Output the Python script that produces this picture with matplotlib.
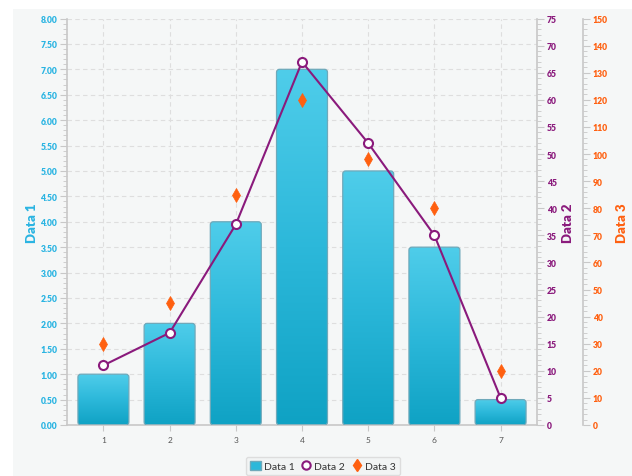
import matplotlib
matplotlib.use("Agg")
import matplotlib.pyplot as plt
import numpy as np
from matplotlib.patches import FancyBboxPatch, Rectangle
from matplotlib.ticker import MultipleLocator, FormatStrFormatter
from matplotlib.lines import Line2D
from matplotlib.colors import LinearSegmentedColormap

categories = [1, 2, 3, 4, 5, 6, 7]
data1 = [1.0, 2.0, 4.0, 7.0, 5.0, 3.5, 0.5]
data2 = [11, 17, 37, 67, 52, 35, 5]
data3 = [30, 45, 85, 120, 98, 80, 20]

BLUE = "#2ab4e2"
PURPLE = "#8a1a7c"
ORANGE = "#ff6010"
GRID = "#dedede"
AXC = "#c8c8c8"

W, H = 632, 477
fig = plt.figure(figsize=(W / 100, H / 100), dpi=100)
fig.patch.set_facecolor("white")
fig.patches.append(Rectangle((13 / W, 0), 1 - 13 / W, (H - 10) / H,
                             transform=fig.transFigure, facecolor="#f5f7f7",
                             edgecolor="none", zorder=-10))

L, R, T, B = 67, 537, 19.5, 426
ax = fig.add_axes([L / W, (H - B) / H, (R - L) / W, (B - T) / H])
ax.set_facecolor("none")
ax.set_xlim(0.45, 7.55)
ax.set_ylim(0, 8)

ax.set_axisbelow(True)
ax.yaxis.set_major_locator(MultipleLocator(0.5))
ax.yaxis.set_minor_locator(MultipleLocator(0.1))
ax.yaxis.set_major_formatter(FormatStrFormatter("%.2f"))
ax.set_xticks(categories)
ax.grid(True, color=GRID, linestyle=(0, (4, 3)), linewidth=0.8)

bars = ax.bar(categories, data1, width=0.77, color="none", edgecolor="none")
grad = np.linspace(0, 1, 256).reshape(-1, 1)
cmap = LinearSegmentedColormap.from_list("g", ["#0fa2c4", "#2cb8da", "#4fcdea"])
for b in bars:
    x0, y0 = b.get_x(), b.get_y()
    w, h = b.get_width(), b.get_height()
    fb = FancyBboxPatch((x0, y0), w, h,
                        boxstyle="round,pad=0,rounding_size=0.045",
                        mutation_aspect=1.3, facecolor="none",
                        edgecolor="#6fa9ba", linewidth=0.9, zorder=3)
    ax.add_patch(fb)
    im = ax.imshow(grad, extent=(x0, x0 + w, y0, y0 + h), origin="lower",
                   cmap=cmap, aspect="auto", zorder=2, interpolation="bilinear")
    im.set_clip_path(fb)
ax.set_xlim(0.45, 7.55)
ax.set_ylim(0, 8)

for s in ["top", "right"]:
    ax.spines[s].set_visible(False)
for s in ["left", "bottom"]:
    ax.spines[s].set_color(AXC)
    ax.spines[s].set_linewidth(1.2)

ax.tick_params(axis="y", which="major", length=5, color=AXC, labelcolor=BLUE,
               labelsize=6.2, pad=2)
ax.tick_params(axis="y", which="minor", length=3, color=AXC)
ax.tick_params(axis="x", length=4, color=AXC, labelcolor="#555555",
               labelsize=6, pad=4)
for lab in ax.get_yticklabels():
    lab.set_fontfamily("Lato")
    lab.set_fontweight("heavy")
for lab in ax.get_xticklabels():
    lab.set_fontfamily("Lato")
ax.set_ylabel("Data 1", color=BLUE, fontsize=9.5, fontweight="heavy",
              fontfamily="Lato", labelpad=2)

ax2 = ax.twinx()
ax2.set_ylim(0, 75)
ax2.yaxis.set_major_locator(MultipleLocator(5))
ax2.yaxis.set_minor_locator(MultipleLocator(1))
ax2.plot(categories, data2, color=PURPLE, linewidth=1.5, marker="o",
         markersize=6.5, markerfacecolor="white", markeredgecolor=PURPLE,
         markeredgewidth=1.5, zorder=5)
for s in ["top", "left", "bottom"]:
    ax2.spines[s].set_visible(False)
ax2.spines["right"].set_color(AXC)
ax2.spines["right"].set_linewidth(1.2)
ax2.tick_params(axis="y", which="major", length=5, color=AXC,
                labelcolor=PURPLE, labelsize=6.2, pad=2)
ax2.tick_params(axis="y", which="minor", length=3, color=AXC)
for lab in ax2.get_yticklabels():
    lab.set_fontfamily("Lato")
    lab.set_fontweight("heavy")
ax2.set_ylabel("Data 2", color=PURPLE, fontsize=9.5, fontweight="heavy",
               fontfamily="Lato", labelpad=4)

ax3 = ax.twinx()
ax3.set_ylim(0, 150)
ax3.spines["right"].set_position(("axes", (583 - L) / (R - L)))
ax3.yaxis.set_major_locator(MultipleLocator(10))
ax3.yaxis.set_minor_locator(MultipleLocator(2))
ax3.plot(categories, data3, linestyle="none", marker="d", markersize=7.5,
         markerfacecolor=ORANGE, markeredgecolor=ORANGE, markeredgewidth=0.5,
         zorder=6)
for s in ["top", "left", "bottom"]:
    ax3.spines[s].set_visible(False)
ax3.spines["right"].set_color(AXC)
ax3.spines["right"].set_linewidth(1.2)
ax3.tick_params(axis="y", which="major", length=5, color=AXC,
                labelcolor=ORANGE, labelsize=6.2, pad=2)
ax3.tick_params(axis="y", which="minor", length=3, color=AXC)
for lab in ax3.get_yticklabels():
    lab.set_fontfamily("Lato")
    lab.set_fontweight("heavy")
ax3.set_ylabel("Data 3", color=ORANGE, fontsize=9.5, fontweight="heavy",
               fontfamily="Lato", labelpad=6)

handles = [
    Rectangle((0, 0), 1, 1, facecolor="#2cb8da", edgecolor="#6fa9ba"),
    Line2D([], [], linestyle="none", marker="o", markersize=6,
           markerfacecolor="white", markeredgecolor=PURPLE, markeredgewidth=1.5),
    Line2D([], [], linestyle="none", marker="d", markersize=6.5,
           markerfacecolor=ORANGE, markeredgecolor=ORANGE),
]
leg = fig.legend(handles, ["Data 1", "Data 2", "Data 3"], loc="center",
                 bbox_to_anchor=(323 / W, (H - 467) / H), ncol=3,
                 frameon=True, handlelength=1.0, handleheight=1.0,
                 handletextpad=0.3, columnspacing=0.6, borderpad=0.4,
                 prop={"family": "Lato", "size": 7.5})
leg.get_frame().set_edgecolor("#d8d8d8")
leg.get_frame().set_facecolor("#f2f4f4")
for t in leg.get_texts():
    t.set_color("#333333")

fig.savefig("out.png", dpi=100, facecolor=fig.get_facecolor())
